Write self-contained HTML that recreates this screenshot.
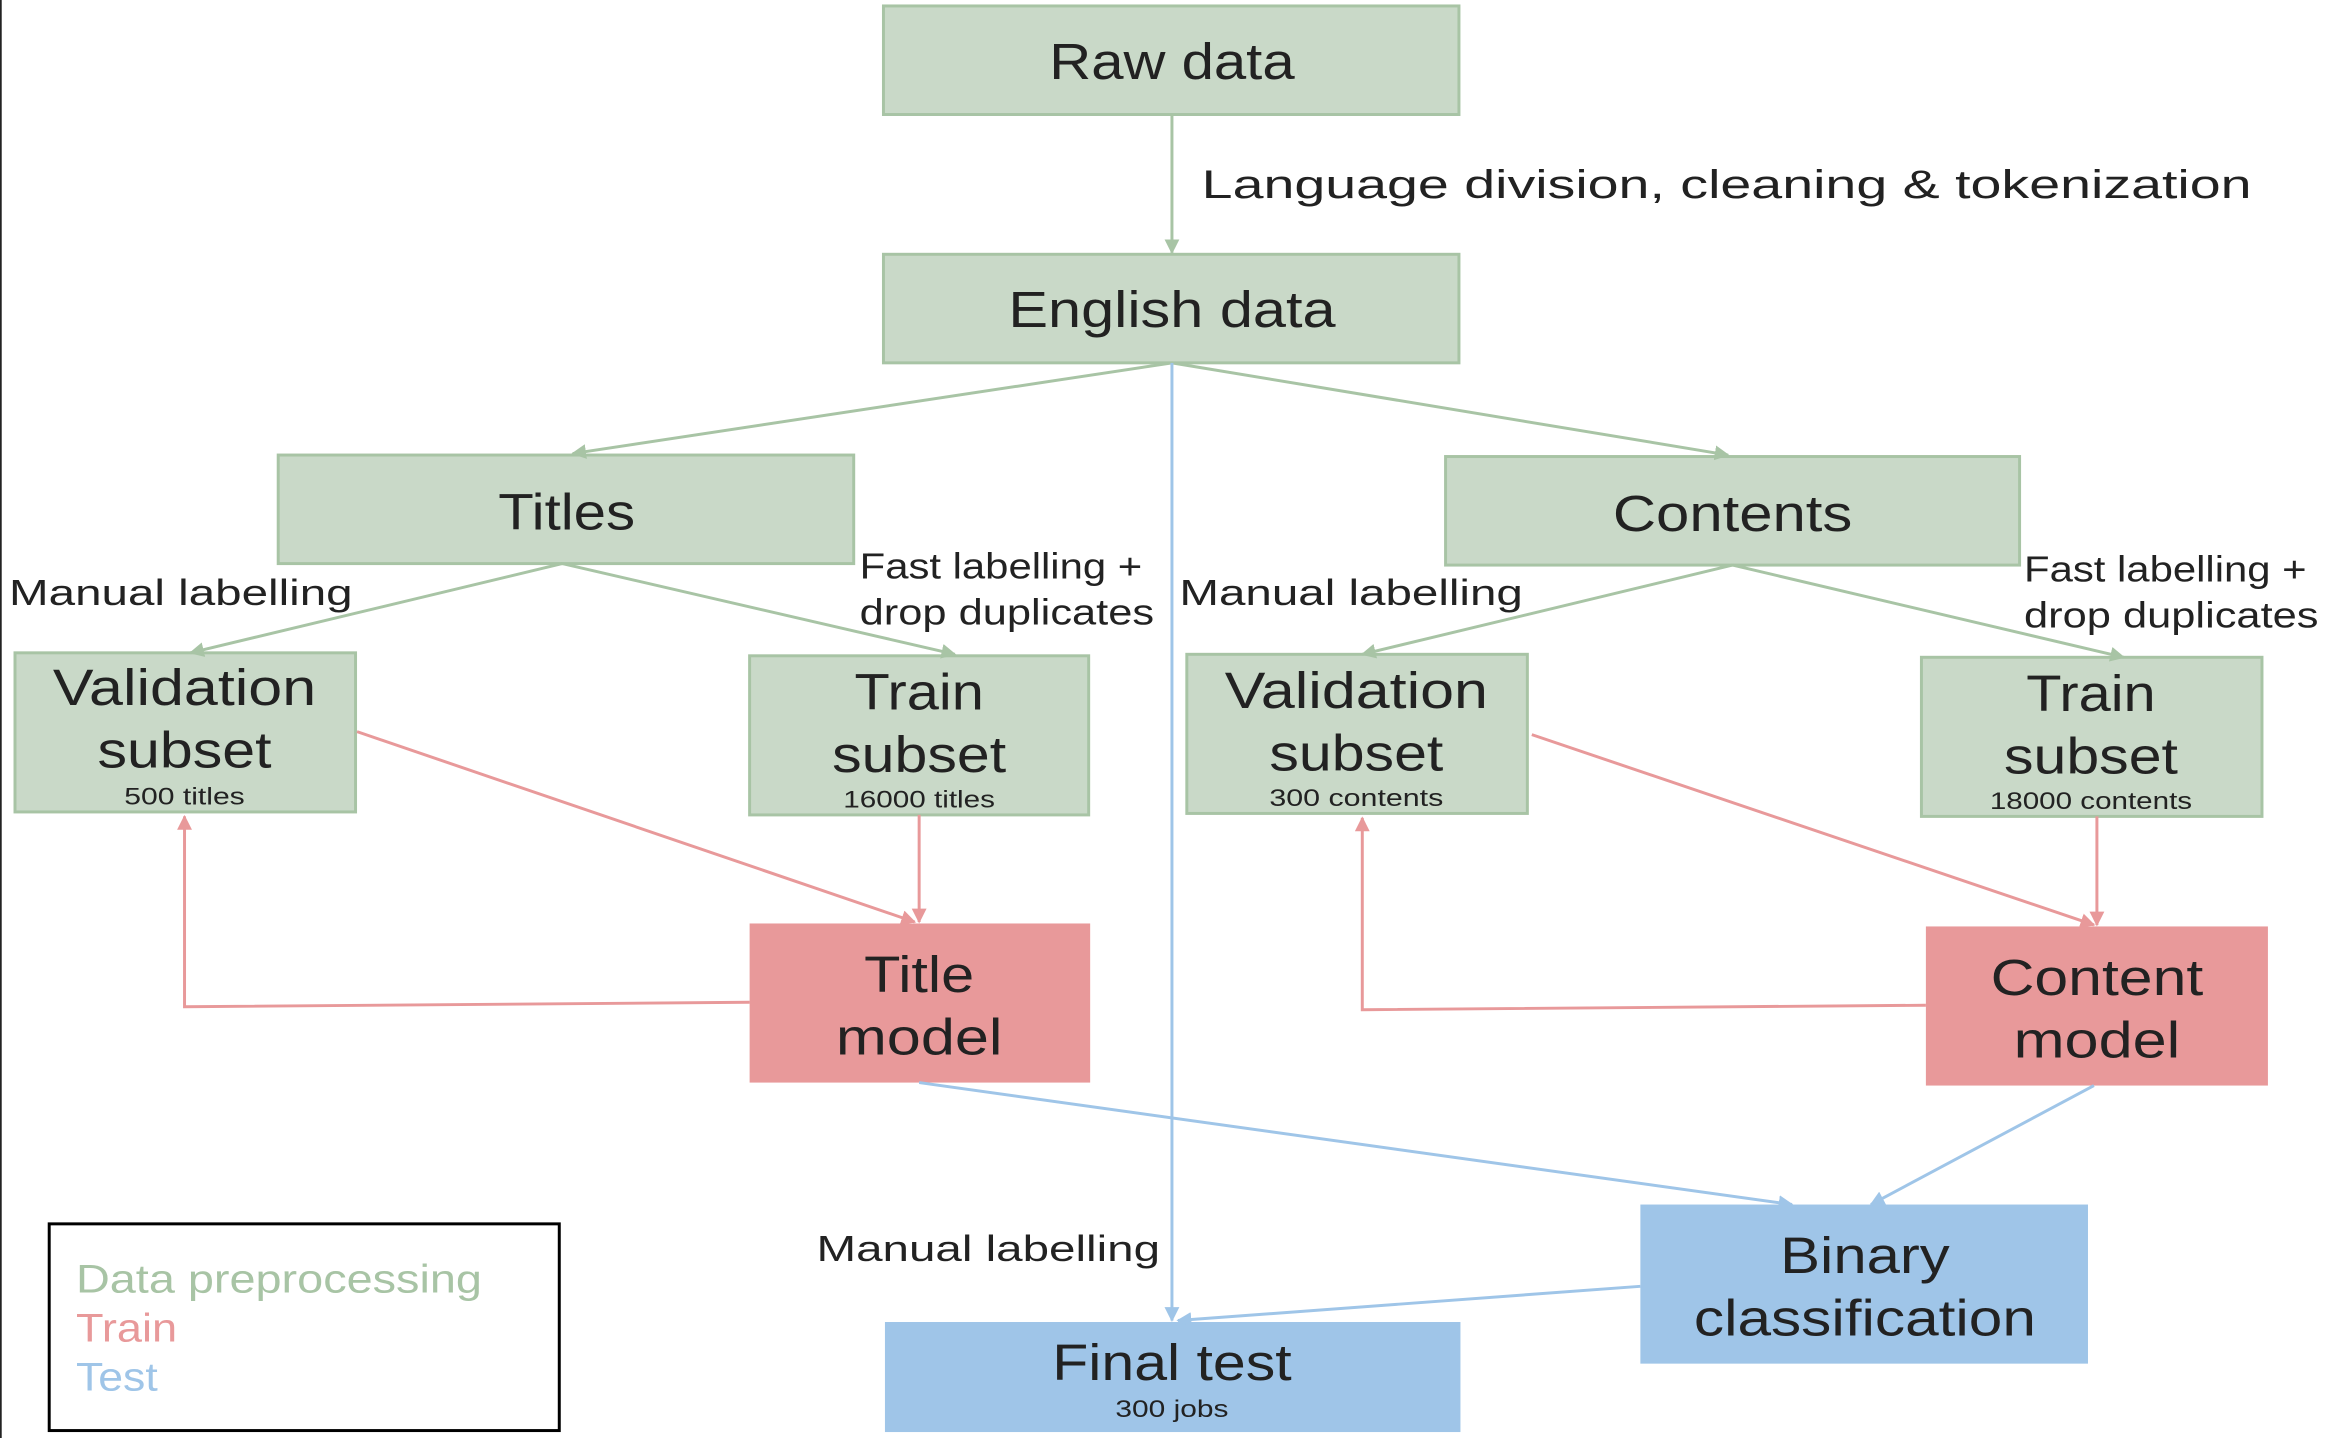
<!DOCTYPE html>
<html><head><meta charset="utf-8"><style>
html,body{margin:0;padding:0;background:#fff;}
svg{display:block;}
text{font-family:"Liberation Sans",sans-serif;fill:#222;}
</style></head><body>
<svg width="2332" height="1438" viewBox="0 0 1568 967" xmlns="http://www.w3.org/2000/svg">
<defs>
<marker id="ag" markerWidth="10" markerHeight="10" refX="9" refY="5" orient="auto" markerUnits="userSpaceOnUse"><path d="M0,0 L10,5 L0,10 z" fill="#a8c4a5"/></marker>
<marker id="ap" markerWidth="10" markerHeight="10" refX="9" refY="5" orient="auto" markerUnits="userSpaceOnUse"><path d="M0,0 L10,5 L0,10 z" fill="#e8999a"/></marker>
<marker id="ab" markerWidth="10" markerHeight="10" refX="9" refY="5" orient="auto" markerUnits="userSpaceOnUse"><path d="M0,0 L10,5 L0,10 z" fill="#9fc5e8"/></marker>
</defs>
<line x1="0.5" y1="0" x2="0.5" y2="967" stroke="#000" stroke-width="1"/>
<g fill="#c9d9c8" stroke="#a8c4a5" stroke-width="2">
<rect x="594" y="4" width="387" height="73"/>
<rect x="594" y="171" width="387" height="73"/>
<rect x="187" y="306" width="387" height="73"/>
<rect x="972" y="307" width="386" height="73"/>
<rect x="10" y="439" width="229" height="107"/>
<rect x="504" y="441" width="228" height="107"/>
<rect x="798" y="440" width="229" height="107"/>
<rect x="1292" y="442" width="229" height="107"/>
</g>
<rect x="504" y="621" width="229" height="107" fill="#e8999a"/>
<rect x="1295" y="623" width="230" height="107" fill="#e8999a"/>
<rect x="1103" y="810" width="301" height="107" fill="#9fc5e8"/>
<rect x="595" y="889" width="387" height="74" fill="#9fc5e8"/>
<rect x="33" y="823" width="343" height="139" fill="none" stroke="#000" stroke-width="2"/>
<g stroke="#a8c4a5" stroke-width="2" fill="none">
<line x1="788" y1="77" x2="788" y2="170" marker-end="url(#ag)"/>
<line x1="788" y1="244" x2="385" y2="305" marker-end="url(#ag)"/>
<line x1="788" y1="244" x2="1162" y2="306" marker-end="url(#ag)"/>
<line x1="378" y1="379" x2="128" y2="439" marker-end="url(#ag)"/>
<line x1="378" y1="379" x2="642" y2="440" marker-end="url(#ag)"/>
<line x1="1165" y1="380" x2="916" y2="440" marker-end="url(#ag)"/>
<line x1="1165" y1="380" x2="1428" y2="442" marker-end="url(#ag)"/>
</g>
<g stroke="#e8999a" stroke-width="2" fill="none">
<line x1="240" y1="492" x2="615" y2="620" marker-end="url(#ap)"/>
<line x1="618" y1="548" x2="618" y2="620" marker-end="url(#ap)"/>
<polyline points="504,674 124,677 124,549" marker-end="url(#ap)"/>
<line x1="1030" y1="494" x2="1408" y2="622" marker-end="url(#ap)"/>
<line x1="1410" y1="549" x2="1410" y2="622" marker-end="url(#ap)"/>
<polyline points="1295,676 916,679 916,550" marker-end="url(#ap)"/>
</g>
<g stroke="#9fc5e8" stroke-width="2" fill="none">
<line x1="788" y1="244" x2="788" y2="888" marker-end="url(#ab)"/>
<line x1="618" y1="728" x2="1205" y2="810" marker-end="url(#ab)"/>
<line x1="1408" y1="730" x2="1258" y2="810" marker-end="url(#ab)"/>
<line x1="1103" y1="865" x2="792" y2="888" marker-end="url(#ab)"/>
</g>
<g text-anchor="middle" font-size="34" lengthAdjust="spacingAndGlyphs">
<text x="788" y="53" textLength="165" lengthAdjust="spacingAndGlyphs">Raw data</text>
<text x="788" y="220" textLength="220" lengthAdjust="spacingAndGlyphs">English data</text>
<text x="381" y="356" textLength="92" lengthAdjust="spacingAndGlyphs">Titles</text>
<text x="1165" y="357" textLength="161" lengthAdjust="spacingAndGlyphs">Contents</text>
<text x="124" y="474" textLength="177" lengthAdjust="spacingAndGlyphs">Validation</text><text x="124" y="516" textLength="117" lengthAdjust="spacingAndGlyphs">subset</text>
<text x="618" y="477" textLength="87" lengthAdjust="spacingAndGlyphs">Train</text><text x="618" y="519" textLength="117" lengthAdjust="spacingAndGlyphs">subset</text>
<text x="912" y="476" textLength="177" lengthAdjust="spacingAndGlyphs">Validation</text><text x="912" y="518" textLength="117" lengthAdjust="spacingAndGlyphs">subset</text>
<text x="1406" y="478" textLength="87" lengthAdjust="spacingAndGlyphs">Train</text><text x="1406" y="520" textLength="117" lengthAdjust="spacingAndGlyphs">subset</text>
<text x="618" y="667" textLength="74" lengthAdjust="spacingAndGlyphs">Title</text><text x="618" y="709" textLength="112" lengthAdjust="spacingAndGlyphs">model</text>
<text x="1410" y="669" textLength="143" lengthAdjust="spacingAndGlyphs">Content</text><text x="1410" y="711" textLength="112" lengthAdjust="spacingAndGlyphs">model</text>
<text x="1254" y="856" textLength="114" lengthAdjust="spacingAndGlyphs">Binary</text><text x="1254" y="898" textLength="230" lengthAdjust="spacingAndGlyphs">classification</text>
<text x="788" y="928" textLength="161" lengthAdjust="spacingAndGlyphs">Final test</text>
</g>
<g text-anchor="middle" font-size="16">
<text x="124" y="541" textLength="81" lengthAdjust="spacingAndGlyphs">500 titles</text>
<text x="618" y="543" textLength="102" lengthAdjust="spacingAndGlyphs">16000 titles</text>
<text x="912" y="542" textLength="117" lengthAdjust="spacingAndGlyphs">300 contents</text>
<text x="1406" y="544" textLength="136" lengthAdjust="spacingAndGlyphs">18000 contents</text>
<text x="788" y="953" textLength="76" lengthAdjust="spacingAndGlyphs">300 jobs</text>
</g>
<text x="808" y="133" font-size="27" textLength="706" lengthAdjust="spacingAndGlyphs">Language division, cleaning &amp; tokenization</text>
<g font-size="24">
<text x="6" y="407" textLength="231" lengthAdjust="spacingAndGlyphs">Manual labelling</text>
<text x="578" y="389" textLength="190" lengthAdjust="spacingAndGlyphs">Fast labelling +</text>
<text x="578" y="420" textLength="198" lengthAdjust="spacingAndGlyphs">drop duplicates</text>
<text x="793" y="407" textLength="231" lengthAdjust="spacingAndGlyphs">Manual labelling</text>
<text x="1361" y="391" textLength="190" lengthAdjust="spacingAndGlyphs">Fast labelling +</text>
<text x="1361" y="422" textLength="198" lengthAdjust="spacingAndGlyphs">drop duplicates</text>
<text x="549" y="848" textLength="231" lengthAdjust="spacingAndGlyphs">Manual labelling</text>
</g>
<g font-size="27">
<text x="51" y="869" style="fill:#a8c4a5" textLength="273" lengthAdjust="spacingAndGlyphs">Data preprocessing</text>
<text x="51" y="902" style="fill:#e8999a" textLength="68" lengthAdjust="spacingAndGlyphs">Train</text>
<text x="51" y="935" style="fill:#9fc5e8" textLength="55" lengthAdjust="spacingAndGlyphs">Test</text>
</g>
</svg>
</body></html>
